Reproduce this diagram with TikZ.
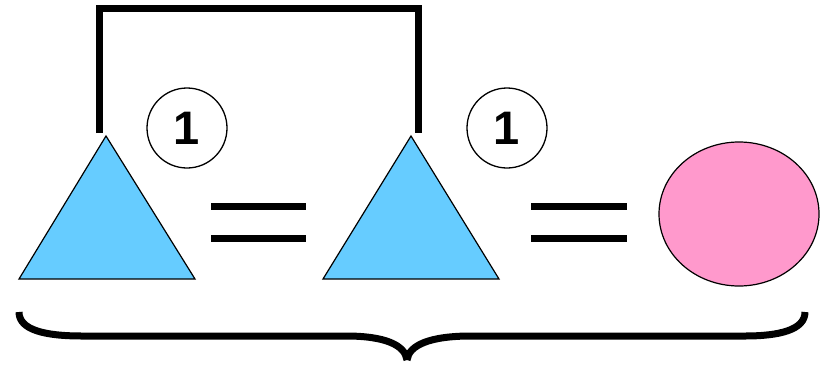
\documentclass[tikz,border=0pt]{standalone}
\usepackage{fontspec}
\setmainfont{Liberation Sans}
\usetikzlibrary{shapes.geometric}
\definecolor{triblue}{HTML}{66CCFF}
\definecolor{ovalpink}{HTML}{FF99CC}

\begin{document}
\begin{tikzpicture}[
		x=1pt,y=-1pt,
		tri/.style={draw=black,fill=triblue,line width=1.2pt,line join=miter},
		num/.style={circle,draw=black,line width=1.3pt,minimum size=80pt,inner sep=0pt,
			font=\fontsize{47}{47}\selectfont\bfseries},
		bar/.style={line width=7pt},
		bracket/.style={line width=7pt,line join=miter}
		]
		\useasboundingbox (0,0) rectangle (829,367);

		% the two triangles
		\coordinate (t1) at (106,136);
		\coordinate (t2) at (411,136);
		\draw[tri] (t1) -- (195,279) -- (19,279) -- cycle;
		\draw[tri] (t2) -- (499,279) -- (323,279) -- cycle;

		% the oval
		\node[ellipse,draw=black,fill=ovalpink,line width=1.2pt,
			minimum width=160pt,minimum height=144pt] (oval) at (739,214) {};

		% numbered circles
		\node[num] (c1) at (187,128) {1};
		\node[num] (c2) at (507,128) {1};

		% equals signs
		\draw[bar] (211,206) -- (306,206);
		\draw[bar] (211,238) -- (306,238);
		\draw[bar] (531,206) -- (627,206);
		\draw[bar] (531,238) -- (627,238);

		% bracket over the triangles
		\coordinate (b1) at (99,133);
		\coordinate (b2) at (418,133);
		\draw[bracket] (b1) -- (99,8) -- (418,8) -- (b2);

		% brace underneath
		\coordinate (bl) at (19,312);
		\coordinate (br) at (805,312);
		\coordinate (tip) at (407,360);
		\draw[line width=7pt] (bl) .. controls (19,330) and (45,336) .. (82,336)
			-- (346,336) .. controls (385,336) and (405,345) .. (tip);
		\draw[line width=7pt] (br) .. controls (805,330) and (779,336) .. (745,336)
			-- (471,336) .. controls (430,336) and (409,345) .. (tip);
	\end{tikzpicture}
\end{document}
